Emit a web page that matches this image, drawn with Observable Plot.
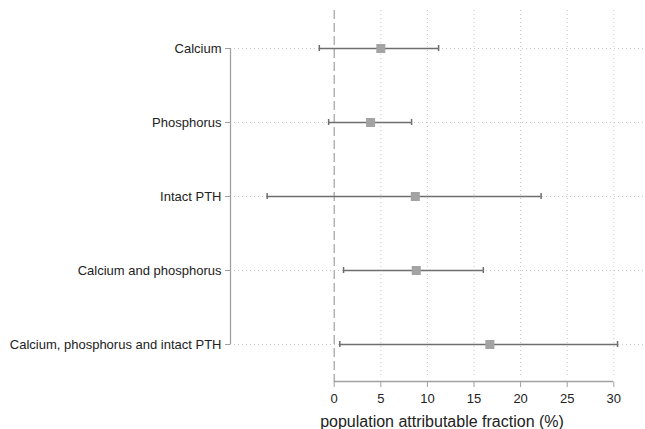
<!DOCTYPE html>
<html>
<head>
<meta charset="utf-8">
<script src="https://cdn.jsdelivr.net/npm/d3@7"></script>
<script src="https://cdn.jsdelivr.net/npm/@observablehq/plot@0.6"></script>
<style>
  html, body { margin: 0; padding: 0; background: #fff; }
  #chart svg { display: block; font-family: "Liberation Sans", Arial, sans-serif; }
</style>
</head>
<body>
<div id="chart"></div>
<script>
const categories = ["Calcium", "Phosphorus", "Intact PTH", "Calcium and phosphorus", "Calcium, phosphorus and intact PTH"];
const estimates = [5.0, 3.9, 8.7, 8.8, 16.7];
const lower = [-1.6, -0.6, -7.2, 1.0, 0.6];
const upper = [11.2, 8.3, 22.2, 16.0, 30.4];
const xTicks = [0, 5, 10, 15, 20, 25, 30];
const xLabel = "population attributable fraction (%)";

const xMin = -11.13, xMax = 33.4;
const data = categories.map((c, i) => ({cat: c, est: estimates[i], lo: lower[i], hi: upper[i]}));
const gridTicks = xTicks.filter(t => t !== 0);

const chart = Plot.plot({
  width: 645,
  height: 429,
  marginLeft: 230,
  marginRight: 0,
  marginTop: 10,
  marginBottom: 47,
  style: {background: "#fff", fontFamily: "Liberation Sans, Arial, sans-serif"},
  x: {domain: [xMin, xMax]},
  y: {type: "point", domain: categories, padding: 0, insetTop: 37, insetBottom: 37},
  marks: [
    // horizontal dotted gridlines
    Plot.ruleY(categories, {stroke: "#c8c8c8", strokeDasharray: "1,3", strokeWidth: 1}),
    // vertical dotted gridlines
    Plot.ruleX(gridTicks, {stroke: "#c8c8c8", strokeDasharray: "1,3", strokeWidth: 1, insetBottom: 6}),
    // reference line at zero
    Plot.ruleX([0], {stroke: "#a8a8a8", strokeDasharray: "9,4", strokeWidth: 1.3}),
    // y axis line
    Plot.ruleX([{x: xMin, a: categories[0], b: categories[categories.length - 1]}], {x: "x", y1: "a", y2: "b", stroke: "#a0a0a0", strokeWidth: 1.3}),
    Plot.axisY({tickSize: 5, tickPadding: 4, fontSize: 13, stroke: "#a0a0a0", fill: "#222", label: null}),
    // x axis line
    Plot.ruleY([{y: categories[categories.length - 1], a: xTicks[0], b: xTicks[xTicks.length - 1]}], {y: "y", x1: "a", x2: "b", dy: 37, stroke: "#a0a0a0", strokeWidth: 1.3}),
    Plot.axisX({ticks: xTicks, tickSize: 5, tickPadding: 6, fontSize: 13, stroke: "#a0a0a0", fill: "#222", label: null}),
    Plot.text([xLabel], {frameAnchor: "bottom", dy: 39, dx: 4, fontSize: 16, fill: "#222", lineAnchor: "middle"}),
    // error bars
    Plot.ruleY(data, {y: "cat", x1: "lo", x2: "hi", stroke: "#6e6e6e", strokeWidth: 1.5}),
    Plot.ruleX(data, {x: "lo", y1: "cat", y2: "cat", insetTop: -3, insetBottom: -3, stroke: "#6e6e6e", strokeWidth: 1.5}),
    Plot.ruleX(data, {x: "hi", y1: "cat", y2: "cat", insetTop: -3, insetBottom: -3, stroke: "#6e6e6e", strokeWidth: 1.5}),
    // point estimates
    Plot.dot(data, {x: "est", y: "cat", symbol: "square", r: 5.1, fill: "#a3a3a3", stroke: "none"})
  ]
});
document.getElementById("chart").append(chart);
</script>
</body>
</html>
